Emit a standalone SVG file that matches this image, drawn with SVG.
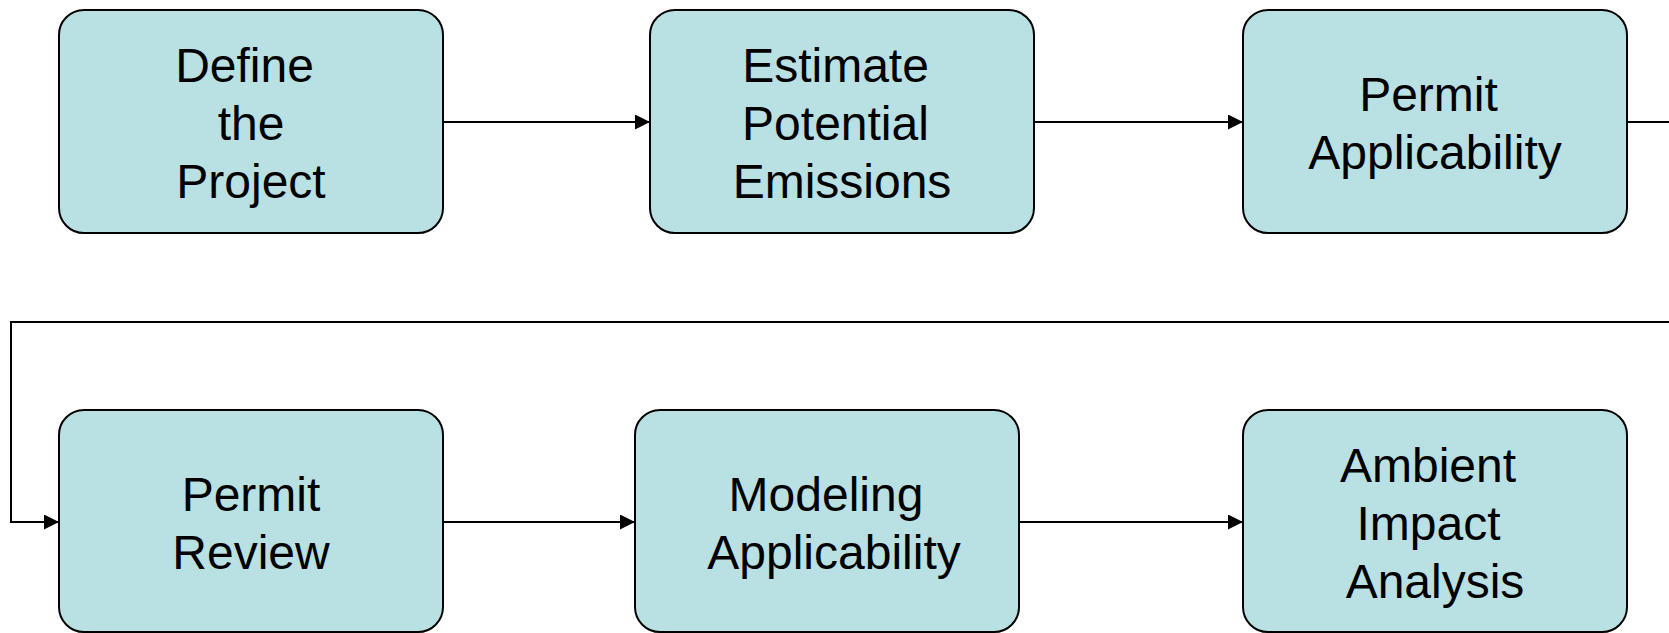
<svg xmlns="http://www.w3.org/2000/svg" width="1669" height="633" viewBox="0 0 1669 633">
<style>
.box{fill:#B9E0E3;stroke:#000;stroke-width:2}
.lbl{font-family:"Liberation Sans",Arial,sans-serif;font-size:48px;fill:#000;text-anchor:middle}
.conn{fill:none;stroke:#000;stroke-width:2}
</style>
<defs>
<marker id="ah" markerUnits="userSpaceOnUse" markerWidth="16" markerHeight="16" refX="15" refY="7.5" orient="auto">
<path d="M0,0 L15,7.5 L0,15 z" fill="#000"/>
</marker>
</defs>
<rect width="1669" height="633" fill="#fff"/>
<g id="connectors">
<path class="conn" d="M443,122 H650" marker-end="url(#ah)"/>
<path class="conn" d="M1034,122 H1243" marker-end="url(#ah)"/>
<path class="conn" d="M1627,122 H1680 V322 H11 V522 H59" marker-end="url(#ah)"/>
<path class="conn" d="M443,522 H635" marker-end="url(#ah)"/>
<path class="conn" d="M1019,522 H1243" marker-end="url(#ah)"/>
</g>
<g id="define-project">
<rect class="box" x="59" y="10" width="384" height="223" rx="25"/>
<text class="lbl"><tspan x="244.5" y="82">Define</tspan><tspan x="251" y="140">the</tspan><tspan x="251" y="198">Project</tspan></text>
</g>
<g id="estimate-emissions">
<rect class="box" x="650" y="10" width="384" height="223" rx="25"/>
<text class="lbl"><tspan x="835.5" y="82">Estimate</tspan><tspan x="835.5" y="140">Potential</tspan><tspan x="842" y="198">Emissions</tspan></text>
</g>
<g id="permit-applicability">
<rect class="box" x="1243" y="10" width="384" height="223" rx="25"/>
<text class="lbl"><tspan x="1428.5" y="111">Permit</tspan><tspan x="1435" y="169">Applicability</tspan></text>
</g>
<g id="permit-review">
<rect class="box" x="59" y="410" width="384" height="222" rx="25"/>
<text class="lbl"><tspan x="251" y="511">Permit</tspan><tspan x="251" y="569">Review</tspan></text>
</g>
<g id="modeling-applicability">
<rect class="box" x="635" y="410" width="384" height="222" rx="25"/>
<text class="lbl"><tspan x="826" y="511">Modeling</tspan><tspan x="834" y="569">Applicability</tspan></text>
</g>
<g id="ambient-impact">
<rect class="box" x="1243" y="410" width="384" height="222" rx="25"/>
<text class="lbl"><tspan x="1428" y="482">Ambient</tspan><tspan x="1428.5" y="540">Impact</tspan><tspan x="1435" y="598">Analysis</tspan></text>
</g>
</svg>
